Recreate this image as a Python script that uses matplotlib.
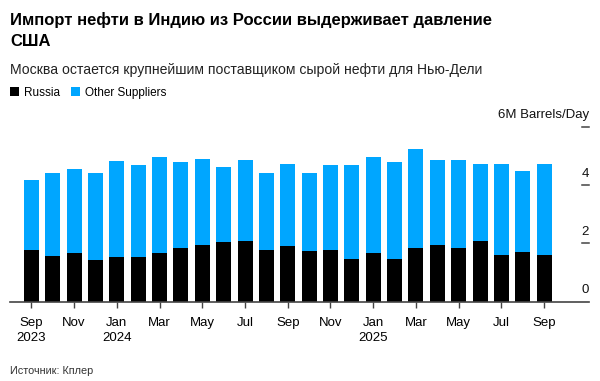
import matplotlib.pyplot as plt
import matplotlib.transforms as mtransforms
import numpy as np

plt.rcParams['font.family'] = ['Liberation Sans', 'DejaVu Sans']

months = ['Sep 2023', 'Oct 2023', 'Nov 2023', 'Dec 2023', 'Jan 2024', 'Feb 2024',
          'Mar 2024', 'Apr 2024', 'May 2024', 'Jun 2024', 'Jul 2024', 'Aug 2024',
          'Sep 2024', 'Oct 2024', 'Nov 2024', 'Dec 2024', 'Jan 2025', 'Feb 2025',
          'Mar 2025', 'Apr 2025', 'May 2025', 'Jun 2025', 'Jul 2025', 'Aug 2025',
          'Sep 2025']
# million barrels per day
russia = [1.77, 1.58, 1.67, 1.44, 1.52, 1.54, 1.67, 1.86, 1.95, 2.06, 2.08, 1.76,
          1.90, 1.74, 1.78, 1.47, 1.67, 1.46, 1.86, 1.94, 1.86, 2.08, 1.60, 1.70,
          1.59]
other = [2.39, 2.82, 2.89, 2.98, 3.30, 3.16, 3.28, 2.94, 2.93, 2.56, 2.77, 2.66,
         2.81, 2.66, 2.91, 3.21, 3.30, 3.32, 3.39, 2.92, 3.00, 2.63, 3.13, 2.80,
         3.12]
xtick_labels = ['Sep\n2023', 'Nov', 'Jan\n2024', 'Mar', 'May', 'Jul', 'Sep',
                'Nov', 'Jan\n2025', 'Mar', 'May', 'Jul', 'Sep']
ytick_vals = [0, 2, 4, 6]
ytick_labels = ['0', '2', '4', '6M Barrels/Day']

BLUE = '#00a6ff'

fig = plt.figure(figsize=(6, 3.81), dpi=100)
ax = fig.add_axes([0.0167, 0.208, 0.965, 0.4593])

x = np.arange(len(months))
b1 = ax.bar(x, russia, width=0.7, color='black', label='Russia')
b2 = ax.bar(x, other, width=0.7, bottom=russia, color=BLUE, label='Other Suppliers')

ax.set_xlim(-1.0, 26.1)
ax.set_ylim(0, 6)

for s in ['left', 'top', 'right']:
    ax.spines[s].set_visible(False)
ax.spines['bottom'].set_color('#444444')
ax.spines['bottom'].set_linewidth(1.2)

ax.set_xticks(x[::2])
ax.set_xticklabels(xtick_labels, fontsize=9.5, linespacing=1.35)
ax.tick_params(axis='x', length=4, width=1, color='#444444', pad=7)
for lab in ax.get_xticklabels():
    lab.set_verticalalignment('top')

ax.set_yticks([])
trans = mtransforms.blended_transform_factory(ax.transAxes, ax.transData)
for v, lab in zip(ytick_vals, ytick_labels):
    if v > 0:
        ax.plot([0.9885, 1.0], [v, v], color='#444444', lw=1.1,
                transform=trans, clip_on=False)
    ax.annotate(lab, xy=(1.0, v), xycoords=trans, xytext=(0, 4),
                textcoords='offset points', ha='right', va='bottom',
                fontsize=9.5, color='#111111')

fig.text(0.0167, 0.968, 'Импорт нефти в Индию из России выдерживает давление\nСША',
         fontsize=12, fontweight='bold', ha='left', va='top', linespacing=1.5)
fig.text(0.0167, 0.806, 'Москва остается крупнейшим поставщиком сырой нефти для Нью-Дели',
         fontsize=10.1, ha='left', va='baseline', color='#222222')

fig.legend(handles=[b1, b2], loc='center left', bbox_to_anchor=(0.0167, 0.757),
           ncol=2, frameon=False, fontsize=8.5, handlelength=0.8, handleheight=0.8,
           handletextpad=0.4, columnspacing=0.9, borderpad=0, borderaxespad=0)

fig.text(0.0167, 0.018, 'Источник: Кплер', fontsize=7.8, color='#333333',
         ha='left', va='baseline')

fig.savefig('out.png', dpi=100)
